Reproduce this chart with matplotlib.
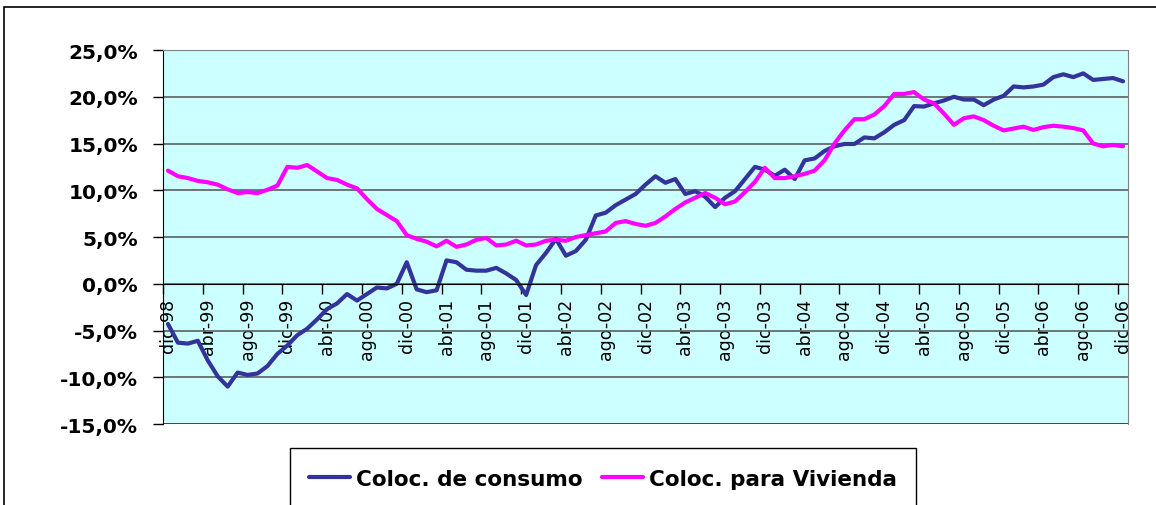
import matplotlib
matplotlib.use("Agg")
import matplotlib.pyplot as plt
from matplotlib.patches import Rectangle
import numpy as np

# tasas de variacion mensuales, dic-98 a dic-06
consumo = [-4.3, -6.3, -6.4, -6.1, -8.2, -9.9, -11.0, -9.5, -9.75, -9.6, -8.8, -7.5,
           -6.6, -5.5, -4.8, -3.8, -2.7, -2.1, -1.1, -1.8, -1.1, -0.4, -0.5, 0.0,
           2.3, -0.6, -0.9, -0.7, 2.5, 2.3, 1.5, 1.4, 1.4, 1.7, 1.1, 0.4,
           -1.2, 2.0, 3.3, 4.8, 3.0, 3.5, 4.7, 7.3, 7.6, 8.4, 9.0, 9.6,
           10.6, 11.5, 10.8, 11.2, 9.6, 9.9, 9.3, 8.2, 9.2, 9.9, 11.2, 12.5,
           12.2, 11.55, 12.2, 11.2, 13.2, 13.4, 14.2, 14.7, 14.95, 14.95, 15.65, 15.55,
           16.2, 17.0, 17.5, 19.0, 18.95, 19.3, 19.6, 20.0, 19.7, 19.7, 19.1, 19.7,
           20.1, 21.1, 21.0, 21.1, 21.3, 22.1, 22.4, 22.1, 22.5, 21.8, 21.9, 22.0,
           21.65]
vivienda = [12.1, 11.5, 11.3, 11.0, 10.85, 10.6, 10.1, 9.7, 9.8, 9.7, 10.05, 10.5,
            12.5, 12.4, 12.7, 12.0, 11.3, 11.1, 10.6, 10.2, 9.05, 8.0, 7.35, 6.7,
            5.2, 4.8, 4.5, 4.0, 4.6, 3.95, 4.2, 4.7, 4.9, 4.1, 4.2, 4.6,
            4.1, 4.2, 4.6, 4.7, 4.6, 5.0, 5.2, 5.4, 5.6, 6.5, 6.7, 6.4,
            6.2, 6.5, 7.2, 8.0, 8.7, 9.2, 9.7, 9.2, 8.5, 8.8, 9.8, 10.9,
            12.4, 11.3, 11.3, 11.5, 11.75, 12.1, 13.2, 15.0, 16.4, 17.6, 17.6, 18.1,
            19.0, 20.3, 20.3, 20.5, 19.7, 19.3, 18.2, 17.0, 17.7, 17.9, 17.5, 16.9,
            16.4, 16.6, 16.8, 16.45, 16.75, 16.9, 16.8, 16.65, 16.4, 15.0, 14.7, 14.85,
            14.7]
etiquetas = ['dic-98', 'abr-99', 'ago-99', 'dic-99', 'abr-00', 'ago-00', 'dic-00',
             'abr-01', 'ago-01', 'dic-01', 'abr-02', 'ago-02', 'dic-02', 'abr-03',
             'ago-03', 'dic-03', 'abr-04', 'ago-04', 'dic-04', 'abr-05', 'ago-05',
             'dic-05', 'abr-06', 'ago-06', 'dic-06']
valores_y = [-15, -10, -5, 0, 5, 10, 15, 20, 25]

meses = np.arange(len(consumo))

fig = plt.figure(figsize=(11.56, 5.06), dpi=100)
ax = fig.add_axes([163/1156, 1 - 425/506, 965/1156, 374/506])
ax.set_facecolor('#CCFFFF')

ax.plot(meses, consumo, color='#333399', lw=3, solid_joinstyle='round',
        solid_capstyle='round', label='Coloc. de consumo')
ax.plot(meses, vivienda, color='#FF00FF', lw=3, solid_joinstyle='round',
        solid_capstyle='round', label='Coloc. para Vivienda')

ax.set_xlim(-0.5, len(consumo) - 0.5)
ax.set_ylim(-15, 25)

# eje y
ax.set_yticks(valores_y)
ax.set_yticklabels([f"{v:.1f}%".replace('.', ',') for v in valores_y],
                   fontsize=14.5, fontweight='bold', family='DejaVu Sans')
ax.tick_params(axis='y', length=7, width=1, pad=11, color='black')
ax.yaxis.grid(True, color='#5a6060', lw=1.2)
ax.set_axisbelow(True)

# eje x cruzando en 0
ax.spines['bottom'].set_position(('data', 0))
ax.spines['bottom'].set_color('black')
ax.spines['left'].set_color('black')
ax.spines['top'].set_color('#808080')
ax.spines['right'].set_color('#808080')
ax.set_xticks(meses[::4])
ax.set_xticklabels(etiquetas, rotation=90, fontsize=12.5, family='DejaVu Sans')
ax.set_xticks(np.arange(-0.5, len(consumo), 4), minor=True)
ax.tick_params(axis='x', which='major', length=0, pad=10)
ax.tick_params(axis='x', which='minor', length=7, width=1, color='black')
ax.axhline(-15, color='#404040', lw=1.2)

# leyenda
leg = ax.legend(loc='center', bbox_to_anchor=(603/1156, 1 - 480/506),
                bbox_transform=fig.transFigure, ncol=2, frameon=False,
                prop={'family': 'DejaVu Sans', 'weight': 'bold', 'size': 15.5},
                handlelength=1.9, handletextpad=0.3, columnspacing=0.9)
for linea in leg.get_lines():
    linea.set_linewidth(3)
fig.patches.append(Rectangle((290/1156, -0.05), 626/1156, 1 - 449/506 + 0.05,
                             transform=fig.transFigure, fill=False,
                             edgecolor='black', lw=1))

# borde del grafico
fig.patches.append(Rectangle((4/1156, -0.05), 1.1, 1 - 8/506 + 0.05,
                             transform=fig.transFigure, fill=False,
                             edgecolor='black', lw=1.2))

fig.savefig('out.png', dpi=100)
